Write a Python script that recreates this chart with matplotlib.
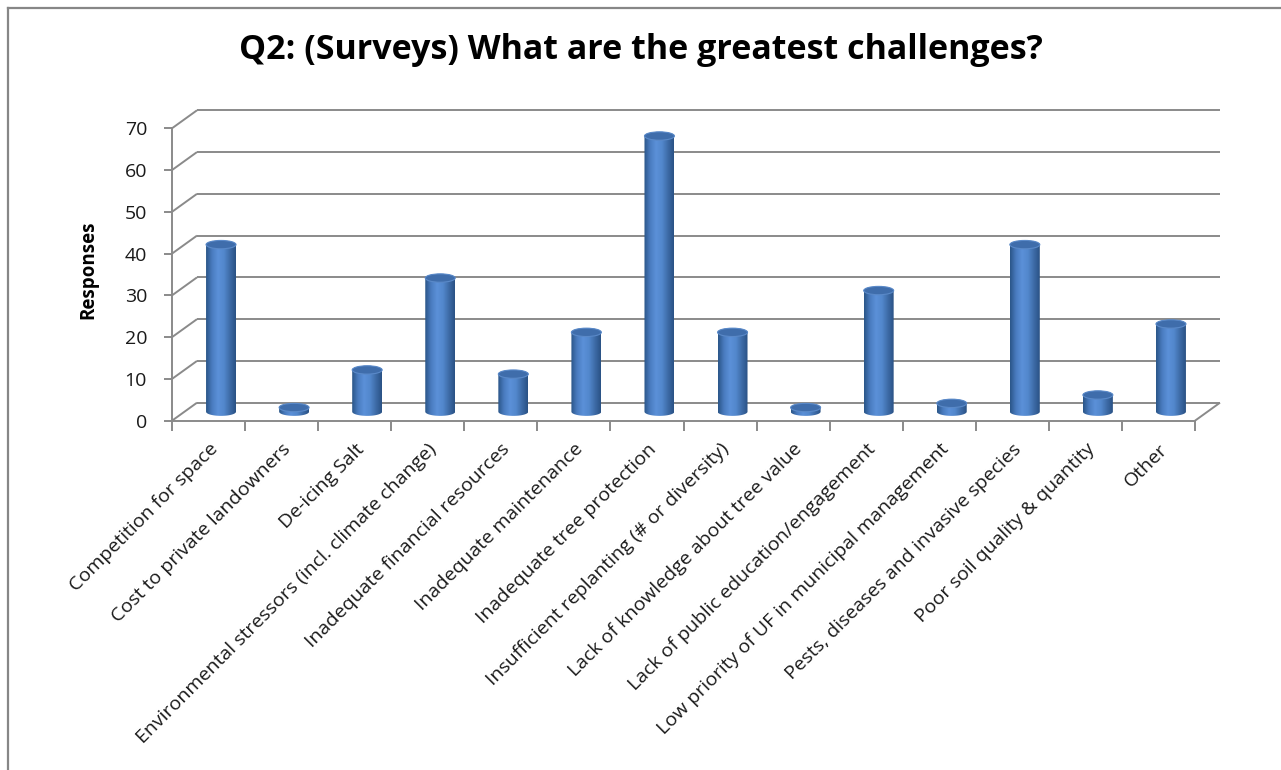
import numpy as np
import matplotlib.pyplot as plt
from matplotlib.colors import LinearSegmentedColormap
from matplotlib.patches import Ellipse, Polygon
from matplotlib.lines import Line2D

challenges = [
    "Competition for space",
    "Cost to private landowners",
    "De-icing Salt",
    "Environmental stressors (incl. climate change)",
    "Inadequate financial resources",
    "Inadequate maintenance",
    "Inadequate tree protection",
    "Insufficient replanting (# or diversity)",
    "Lack of knowledge about tree value",
    "Lack of public education/engagement",
    "Low priority of UF in municipal management",
    "Pests, diseases and invasive species",
    "Poor soil quality & quantity",
    "Other",
]
responses = [40, 1, 10, 32, 9, 19, 66, 19, 1, 29, 2, 40, 4, 21]
value_ticks = [0, 10, 20, 30, 40, 50, 60, 70]

plt.rcParams['font.family'] = ['Open Sans', 'DejaVu Sans']

W, H = 1281, 770
fig = plt.figure(figsize=(W / 100, H / 100), dpi=100)
# axes = front plane of the 3-D box
ax = fig.add_axes([172 / W, (H - 420.7) / H, 1023 / W, 292.4 / H])
n = len(challenges)
xlim = (-0.5, n - 0.5)
ylim = (0, 70)

# depth of floor / side wall in data units
DX, DY = 0.342, 4.31
grey = '#8a8a8a'
grid_kw = dict(color=grey, lw=1.4, clip_on=False, zorder=1, solid_capstyle='butt')
for v in value_ticks:
    ax.plot([xlim[0] + DX, xlim[1] + DX], [v + DY, v + DY], **grid_kw)
    ax.plot([xlim[0], xlim[0] + DX], [v, v + DY], **grid_kw)
ax.plot([xlim[1], xlim[1] + DX], [0, DY], **grid_kw)

# cylinders
cyl = LinearSegmentedColormap.from_list(
    'cyl', ['#2b5689', '#4a7cc0', '#5b90d8', '#5388cd', '#3e6ca8', '#2a5285'])
grad = np.linspace(0, 1, 64).reshape(1, -1)
half_w = 0.205
eh = 1.0
t_low = np.linspace(np.pi, 2 * np.pi, 40)
t_up = np.linspace(0, np.pi, 40)
for i, val in enumerate(responses):
    cx = i + DX / 2
    yb = DY / 2
    yt = yb + val
    lower = np.column_stack([cx + half_w * np.cos(t_low), yb + eh * np.sin(t_low)])
    upper = np.column_stack([cx + half_w * np.cos(t_up), yt + eh * np.sin(t_up)])
    body = Polygon(np.vstack([lower, upper]), closed=True,
                   facecolor='none', edgecolor='none')
    ax.add_patch(body)
    im = ax.imshow(grad, cmap=cyl, extent=[cx - half_w, cx + half_w, yb - eh, yt + eh],
                   aspect='auto', zorder=3, interpolation='bilinear')
    im.set_clip_path(body)
    ax.add_patch(Ellipse((cx, yt), 2 * half_w, 2 * eh, facecolor='#3f6dab',
                         edgecolor='#5a89c8', lw=0.8, zorder=4))

ax.set_xlim(xlim)
ax.set_ylim(ylim)

for side in ['top', 'right']:
    ax.spines[side].set_visible(False)
for side in ['left', 'bottom']:
    ax.spines[side].set_color(grey)
    ax.spines[side].set_linewidth(1.4)

ax.set_xticks(np.arange(n))
ax.set_xticklabels(challenges, rotation=45, ha='right', rotation_mode='anchor',
                   fontsize=14, color='#1a1a1a')
ax.set_xticks(np.arange(n + 1) - 0.5, minor=True)
ax.tick_params(axis='x', which='major', length=0, pad=14)
ax.tick_params(axis='x', which='minor', length=7, width=1.4, color=grey)

ax.set_yticks(value_ticks)
ax.tick_params(axis='y', length=6, width=1.4, color=grey, labelsize=14,
               labelcolor='#1a1a1a', pad=12)

fig.text(641 / W, 1 - 50 / H, "Q2: (Surveys) What are the greatest challenges?",
         ha='center', va='center', fontsize=24.5, fontweight='bold')
fig.text(88 / W, 1 - 270 / H, "Responses", rotation=90, ha='center', va='center',
         fontsize=13.5, fontweight='bold')

# chart frame
fig.add_artist(Line2D([8 / W, 1], [1 - 8 / H, 1 - 8 / H], transform=fig.transFigure,
                      color='#878787', lw=1.6))
fig.add_artist(Line2D([8 / W, 8 / W], [0, 1 - 8 / H], transform=fig.transFigure,
                      color='#878787', lw=1.6))

fig.savefig('out.png', dpi=100, facecolor='white')
